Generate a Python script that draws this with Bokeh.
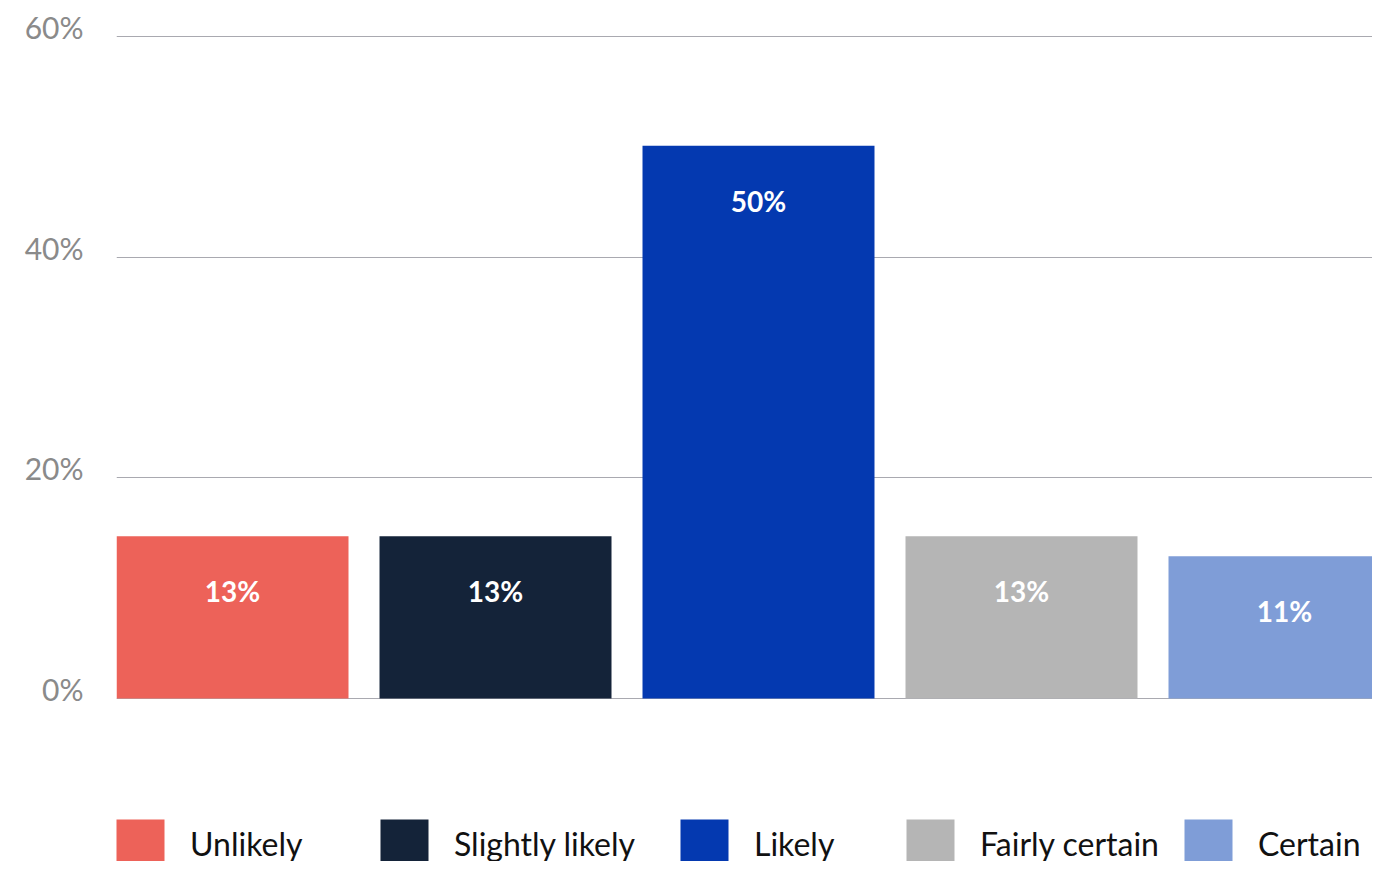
from bokeh.plotting import figure
from bokeh.models import (ColumnDataSource, FixedTicker, CustomJSTickFormatter,
                          Legend, LegendItem, Range1d)
from bokeh.core.properties import value
from bokeh.embed import file_html
from bokeh.resources import INLINE

# ---- data ----
categories = ["Unlikely", "Slightly likely", "Likely", "Fairly certain", "Certain"]
heights = [14.7, 14.7, 50.1, 14.7, 12.9]
bar_labels = ["13%", "13%", "50%", "13%", "11%"]
colors = ["#ED6259", "#142339", "#0439B0", "#B5B5B5", "#7F9DD7"]
grid_ticks = [0, 20, 40, 60]

FONT = "Lato"

source = ColumnDataSource(dict(
    x=list(range(len(categories))),
    top=heights,
    label=bar_labels,
    color=colors,
    cat=categories,
))

p = figure(width=1372, height=861, output_backend="svg", toolbar_location=None,
           x_range=Range1d(-0.4411, 4.3346), y_range=Range1d(-14.774, 63.263),
           min_border_left=116, min_border_right=0, min_border_top=0,
           min_border_bottom=0)
p.outline_line_color = None
p.background_fill_color = "white"
p.border_fill_color = "white"

bars = p.vbar(x="x", top="top", bottom=0, width=0.8821, source=source,
              fill_color="color", line_color=None)

p.text(x="x", y="top", text="label", source=source, y_offset=55,
       text_align="center", text_baseline="middle", text_color="white",
       text_font=value(FONT), text_font_style="bold", text_font_size="28px")

# axes
p.xaxis.visible = False
yax = p.yaxis[0]
yax.ticker = FixedTicker(ticks=[t + 0.85 for t in grid_ticks])
yax.formatter = CustomJSTickFormatter(code="return Math.floor(tick) + '%';")
yax.axis_line_color = None
yax.major_tick_line_color = None
yax.minor_tick_line_color = None
yax.major_tick_out = 0
yax.major_tick_in = 0
yax.major_label_standoff = 33
yax.major_label_text_font = FONT
yax.major_label_text_font_size = "30px"
yax.major_label_text_color = "#8A8A8A"

p.xgrid.visible = False
p.ygrid.ticker = FixedTicker(ticks=grid_ticks)
p.ygrid.grid_line_color = "#A9A9B0"
p.ygrid.grid_line_width = 1

# legend: one entry per position
legend_x = [-6, 258, 558, 784, 1062]
for i, cat in enumerate(categories):
    lg = Legend(items=[LegendItem(label=cat, renderers=[bars], index=i)],
                location=(legend_x[i], -27), orientation="horizontal",
                glyph_width=60, glyph_height=61, label_standoff=20,
                label_height=90,
                label_text_font=FONT, label_text_font_size="32px",
                label_text_color="#111111", label_text_baseline="alphabetic",
                padding=0, margin=0, spacing=0,
                border_line_color=None, background_fill_alpha=0)
    p.add_layout(lg, "center")

open("out.html", "w").write(file_html(p, INLINE))
